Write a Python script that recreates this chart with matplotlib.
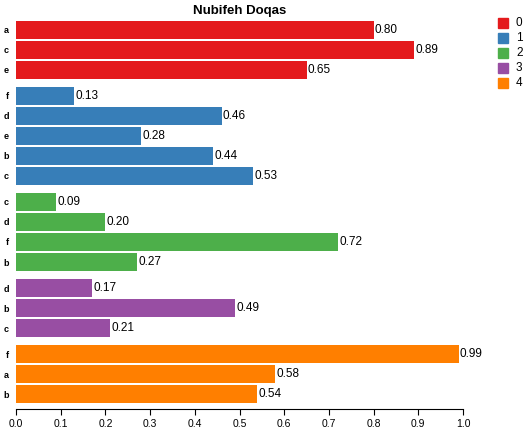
import matplotlib
matplotlib.use("Agg")
import matplotlib.pyplot as plt
from matplotlib.patches import Rectangle

plt.rcParams['font.family'] = ['Liberation Sans', 'DejaVu Sans']

# data per group
groups = ["0", "1", "2", "3", "4"]
cats_0 = ["a", "c", "e"]
vals_0 = [0.80, 0.89, 0.65]
cats_1 = ["f", "d", "e", "b", "c"]
vals_1 = [0.13, 0.46, 0.28, 0.44, 0.53]
cats_2 = ["c", "d", "f", "b"]
vals_2 = [0.09, 0.20, 0.72, 0.27]
cats_3 = ["d", "b", "c"]
vals_3 = [0.17, 0.49, 0.21]
cats_4 = ["f", "a", "b"]
vals_4 = [0.99, 0.58, 0.54]
colors = ["#e41a1c", "#377eb8", "#4daf4a", "#984ea3", "#ff7f00"]

all_cats = [cats_0, cats_1, cats_2, cats_3, cats_4]
all_vals = [vals_0, vals_1, vals_2, vals_3, vals_4]

fig = plt.figure(figsize=(5.27, 4.33), dpi=100)
ax = fig.add_axes([16/527, 24/433, 447/527, 388/433])

gap = 0.3
pos = 0.0
ticks, labels = [], []
for g, (cats, vals) in enumerate(zip(all_cats, all_vals)):
    for c, v in zip(cats, vals):
        ax.barh(pos, v, height=0.9, color=colors[g])
        ax.text(v + 0.003, pos, f"{v:.2f}", va="center", ha="left", fontsize=8.5)
        ticks.append(pos)
        labels.append(c)
        pos += 1
    pos += gap
last = pos - 1 - gap

ax.set_ylim(last + 0.45 + 0.3, -0.45)
ax.set_xlim(0, 1.0)
ax.set_yticks(ticks)
ax.set_yticklabels(labels, fontsize=6.5, fontweight="bold")
ax.tick_params(axis="y", length=0, pad=5)
ax.set_xticks([i / 10 for i in range(11)])
ax.set_xticklabels([f"{i/10:.1f}" for i in range(11)], fontsize=7.5)
ax.tick_params(axis="x", length=4, width=0.8, pad=3)
for s in ["top", "right", "left"]:
    ax.spines[s].set_visible(False)
ax.spines["bottom"].set_linewidth(0.8)

fig.text(240/527, 1 - 11/433, "Nubifeh Doqas", ha="center", va="center",
         fontsize=9.5, fontweight="bold")

# legend squares
for i, g in enumerate(groups):
    y = 433 - (23 + 15 * i)
    fig.patches.append(Rectangle((498/527, (y - 5)/433), 10/527, 10/433,
                                 transform=fig.transFigure, color=colors[i]))
    fig.text(516/527, y/433, g, va="center", ha="left", fontsize=8.5)

fig.savefig("out.png", dpi=100)
